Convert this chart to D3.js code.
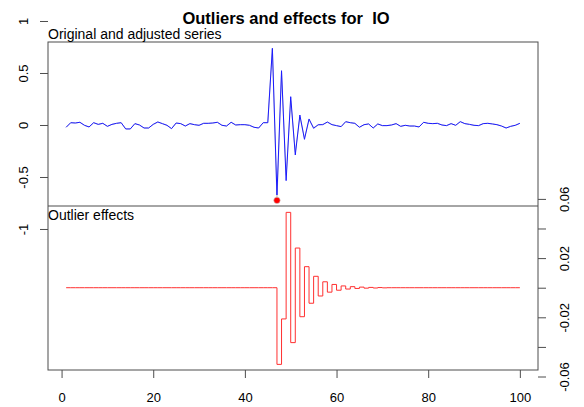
<!DOCTYPE html>
<html><head><meta charset="utf-8">
<script src="https://cdn.jsdelivr.net/npm/d3@7"></script>
<style>
body{margin:0;background:#fff}
text{font-family:"Liberation Sans",Arial,Helvetica,sans-serif;fill:#000;white-space:pre}
</style>
</head><body>
<svg id="c" width="584" height="407"></svg>
<script>
const titleText = "Outliers and effects for  IO";
const topLabel = "Original and adjusted series";
const bottomLabel = "Outlier effects";

const times = [1,2,3,4,5,6,7,8,9,10,11,12,13,14,15,16,17,18,19,20,21,22,23,24,25,26,27,28,29,30,
  31,32,33,34,35,36,37,38,39,40,41,42,43,44,45,46,47,48,49,50,51,52,53,54,55,56,57,58,59,60,
  61,62,63,64,65,66,67,68,69,70,71,72,73,74,75,76,77,78,79,80,81,82,83,84,85,86,87,88,89,90,
  91,92,93,94,95,96,97,98,99,100];

const adjusted = [-0.022,0.022,0.019,0.026,-0.003,-0.019,0.022,0.006,0.016,-0.013,
  0.006,0.016,0.022,-0.038,-0.038,0.013,0.000,-0.029,-0.029,0.006,
  0.029,0.013,-0.003,-0.035,0.019,0.013,-0.010,0.013,0.003,-0.003,
  0.016,0.016,0.019,0.026,-0.003,-0.010,0.026,0.000,0.003,0.003,
  -0.003,-0.022,-0.029,0.022,0.022,0.737,-0.673,0.522,-0.535,0.272,
  -0.288,0.096,-0.138,0.058,-0.032,0.003,0.003,0.029,0.003,-0.006,
  -0.016,0.032,0.022,0.016,-0.022,0.003,0.010,-0.029,0.010,-0.006,
  -0.006,0.000,0.013,-0.013,-0.003,-0.010,-0.010,-0.019,0.026,0.016,
  0.013,0.016,0.000,-0.006,0.013,-0.003,0.032,0.013,0.006,-0.003,
  -0.006,0.013,0.016,0.010,0.003,-0.010,-0.029,-0.013,-0.003,0.016];

const effects = [0,0,0,0,0,0,0,0,0,0, 0,0,0,0,0,0,0,0,0,0,
  0,0,0,0,0,0,0,0,0,0, 0,0,0,0,0,0,0,0,0,0,
  0,0,0,0,0,0,-0.0518,-0.0211,0.0509,-0.0371,
  0.0268,-0.0196,0.0142,-0.0105,0.0077,-0.0056,0.0040,-0.0030,0.0022,-0.0017,
  0.0012,-0.0009,0.0007,-0.0005,0.0004,-0.0003,0.0002,-0.0002,0.0001,-0.0001,
  0,0,0,0,0,0,0,0,0,0, 0,0,0,0,0,0,0,0,0,0, 0,0,0,0,0,0,0,0,0,0];

const outlierTimes = [47];

const xTicks = [0,20,40,60,80,100];
const yTicks = [1,0.5,0,-0.5,-1];
const yTickLabels = ["1","0.5","0","-0.5","-1"];
const effTicks = [0.06,0.04,0.02,0,-0.02,-0.04,-0.06];
const effTickLabels = ["0.06","","0.02","","-0.02","","-0.06"];

// original series = adjusted + outlier effect
const original = adjusted.map((v,i)=>v+effects[i]);

const svg = d3.select("#c");
const L=48, R=538, T=42, M=206, B=370;

const x = d3.scaleLinear().domain([-2.96,103.96]).range([L,R]);
const yTop = d3.scaleLinear().domain([-0.779,0.798]).range([M,T]);
const yEff = d3.scaleLinear().domain([-0.0556,0.0552]).range([B,M]);

// series lines
const lineTop = d3.line().x((d,i)=>x(times[i])).y(d=>yTop(d));
svg.append("path").attr("d",lineTop(original)).attr("fill","none").attr("stroke","#cccccc").attr("stroke-width",1);
svg.append("path").attr("d",lineTop(adjusted)).attr("fill","none").attr("stroke","#1a1aff").attr("stroke-width",1);

// outlier points
outlierTimes.forEach(t=>{
  const i = times.indexOf(t);
  svg.append("circle").attr("cx",x(t)).attr("cy",yTop(original[i])).attr("r",3.2)
    .attr("fill","#ff0000").attr("stroke","#cccccc").attr("stroke-width",0.6);
});

// effects step line
const lineEff = d3.line().x((d,i)=>x(times[i])).y(d=>yEff(d)).curve(d3.curveStepAfter);
svg.append("path").attr("d",lineEff(effects)).attr("fill","none").attr("stroke","#ff3030").attr("stroke-width",1);

// boxes
const boxCol="#4d4d4d";
svg.append("rect").attr("x",L).attr("y",T).attr("width",R-L).attr("height",B-T)
  .attr("fill","none").attr("stroke",boxCol).attr("stroke-width",1);
svg.append("line").attr("x1",L).attr("x2",R).attr("y1",M).attr("y2",M).attr("stroke",boxCol).attr("stroke-width",1);

// axes
const gx = svg.append("g").attr("transform",`translate(0,${B})`)
  .call(d3.axisBottom(x).tickValues(xTicks).tickSize(8).tickPadding(14.5).tickFormat(d3.format("d")));
gx.select(".domain").remove();
gx.selectAll("text").attr("font-size","13px").attr("dy","0.71em").attr("fill","#000");
gx.selectAll("line").attr("stroke",boxCol);

const gy = svg.append("g").attr("transform",`translate(${L},0)`)
  .call(d3.axisLeft(yTop).tickValues(yTicks).tickSize(8).tickFormat((d,i)=>yTickLabels[i]));
gy.select(".domain").remove();
gy.selectAll("line").attr("stroke",boxCol);
gy.selectAll("text").attr("x",null).attr("dy",null).attr("text-anchor","middle").attr("font-size","13px")
  .attr("transform","translate(-20,0) rotate(-90)").attr("fill","#000");

const ge = svg.append("g").attr("transform",`translate(${R},0)`)
  .call(d3.axisRight(yEff).tickValues(effTicks).tickSize(8).tickFormat((d,i)=>effTickLabels[i]));
ge.select(".domain").remove();
ge.selectAll("line").attr("stroke",boxCol);
ge.selectAll("text").attr("x",null).attr("dy",null).attr("text-anchor","middle").attr("font-size","13px")
  .attr("transform","translate(31,0) rotate(-90)").attr("fill","#000");

// titles
svg.append("text").attr("x",286).attr("y",24).attr("text-anchor","middle")
  .attr("font-size","16.5px").attr("font-weight","bold").text(titleText);
svg.append("text").attr("x",L).attr("y",38.5).attr("font-size","14px").text(topLabel);
svg.append("text").attr("x",L).attr("y",219.5).attr("font-size","14px").text(bottomLabel);
</script>
</body></html>
